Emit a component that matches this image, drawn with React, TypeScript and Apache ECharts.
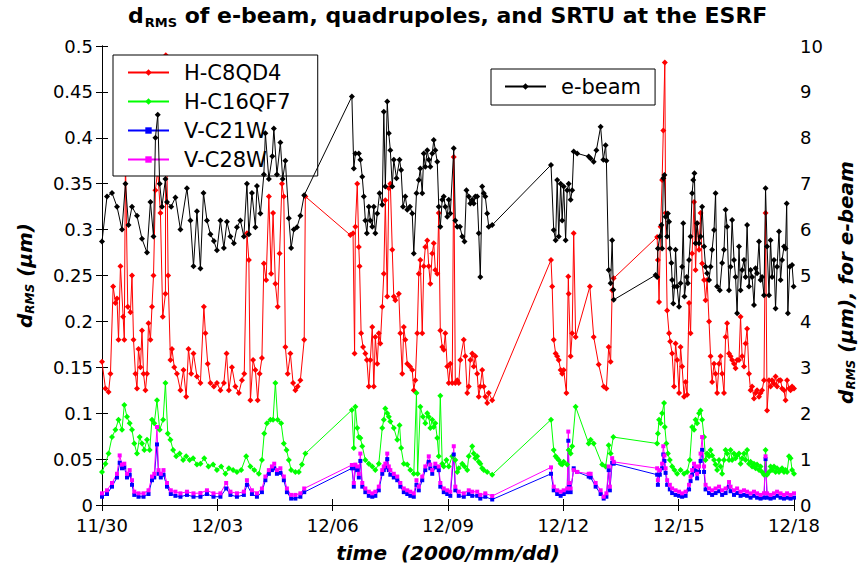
import React, { useEffect, useRef } from "react";
import * as echarts from "echarts";

const FONT = "DejaVu Sans";

const xTickLabels = ["11/30", "12/03", "12/06", "12/09", "12/12", "12/15", "12/18"];
const seriesNames = ["H-C8QD4", "H-C16QF7", "V-C21W", "V-C28W", "e-beam"];

// time in days after 11/30, value in micrometres
const ebeam: number[][] = [
  [0.00,5.74],[0.13,6.72],[0.26,6.8],[0.39,6.5],[0.52,6.0],[0.61,7.0],[0.69,6.1],[0.78,6.5],[0.91,6.3],[1.04,5.8],[1.17,5.5],[1.26,6.6],[1.34,5.85],[1.39,8.0],[1.45,8.5],[1.50,7.0],[1.56,6.5],[1.65,7.1],[1.69,6.6],[1.80,6.5],[1.91,6.7],[2.04,6.0],[2.21,6.9],[2.30,6.2],[2.38,5.2],[2.47,6.4],[2.56,5.15],[2.64,6.8],[2.73,6.2],[2.82,5.9],[2.91,5.75],[2.99,5.55],[3.08,6.2],[3.17,5.6],[3.25,6.17],[3.34,5.85],[3.43,5.7],[3.51,6.05],[3.60,6.2],[3.69,5.85],[3.77,7.0],[3.82,5.9],[3.90,6.8],[3.99,6.05],[4.03,6.95],[4.12,6.35],[4.21,7.2],[4.25,8.1],[4.34,7.1],[4.43,7.6],[4.47,8.2],[4.55,7.2],[4.64,7.9],[4.70,7.1],[4.77,7.5],[4.86,6.25],[4.92,5.6],[4.99,6.0],[5.07,6.05],[5.16,6.3],[5.26,6.75],
  [6.50,8.9],[6.55,7.33],[6.59,7.66],[6.68,7.66],[6.72,7.52],[6.77,7.15],[6.81,6.72],[6.85,6.2],[6.89,5.92],[6.94,6.5],[6.98,6.2],[7.03,6.06],[7.07,6.5],[7.11,5.92],[7.16,6.35],[7.22,6.79],[7.29,6.54],[7.33,8.57],[7.37,6.94],[7.42,8.79],[7.46,8.1],[7.50,7.73],[7.55,6.94],[7.59,7.52],[7.66,7.12],[7.74,7.52],[7.78,7.3],[7.83,6.5],[7.89,6.72],[7.94,6.43],[8.01,6.5],[8.07,6.35],[8.11,5.48],[8.18,6.79],[8.24,7.08],[8.28,7.33],[8.33,6.79],[8.37,7.66],[8.41,7.37],[8.46,7.73],[8.50,7.52],[8.54,7.37],[8.59,7.66],[8.63,7.95],[8.67,7.73],[8.72,7.48],[8.76,6.5],[8.80,6.06],[8.85,6.65],[8.89,6.72],[8.93,6.5],[8.98,6.28],[9.02,6.65],[9.06,6.35],[9.15,7.77],[9.19,6.2],[9.24,6.06],[9.31,6.06],[9.37,5.85],[9.43,5.74],[9.48,6.86],[9.54,6.72],[9.58,6.57],[9.63,6.65],[9.67,6.57],[9.71,6.72],[9.76,6.72],[9.80,5.92],[9.84,4.97],[9.89,6.94],[9.93,6.79],[9.97,6.72],[10.02,6.35],[10.06,6.06],[10.15,6.1],
  [11.68,7.41],[11.75,5.99],[11.80,5.77],[11.84,7.08],[11.88,5.85],[11.93,7.0],[11.97,6.2],[12.01,6.94],[12.06,5.77],[12.10,6.86],[12.14,7.0],[12.19,6.65],[12.23,6.86],[12.27,7.7],[12.36,7.66],[12.66,7.59],[12.71,7.55],[12.79,7.48],[12.86,7.73],[12.97,8.24],[13.04,7.52],[13.10,7.84],[13.12,7.5],[13.18,5.12],[13.23,4.83],[13.27,5.77],[13.30,4.69],[13.31,4.47],
  [14.40,5.01],[14.44,4.97],[14.46,5.59],[14.51,5.85],[14.55,6.1],[14.57,5.59],[14.60,7.12],[14.63,7.19],[14.66,6.28],[14.70,5.85],[14.72,6.35],[14.75,6.17],[14.77,5.59],[14.81,5.27],[14.83,4.9],[14.86,4.39],[14.89,4.76],[14.92,5.56],[14.96,4.76],[15.01,4.32],[15.05,4.83],[15.09,5.19],[15.12,6.14],[15.15,4.54],[15.21,4.97],[15.24,4.83],[15.27,5.34],[15.31,5.85],[15.35,6.79],[15.38,7.08],[15.41,7.23],[15.44,5.7],[15.48,6.14],[15.53,5.7],[15.57,5.85],[15.61,6.5],[15.66,5.63],[15.70,5.19],[15.74,5.05],[15.79,4.9],[15.83,5.19],[15.87,5.56],[15.92,5.99],[15.96,6.79],[16.00,4.76],[16.07,4.68],[16.13,5.27],[16.18,5.56],[16.22,6.43],[16.26,6.06],[16.31,4.68],[16.35,5.19],[16.39,6.21],[16.44,5.34],[16.48,4.97],[16.52,4.18],[16.57,5.63],[16.61,4.68],[16.65,5.12],[16.70,5.34],[16.74,4.97],[16.78,6.1],[16.83,4.76],[16.87,5.12],[16.91,4.97],[16.96,4.36],[17.00,5.16],[17.04,5.05],[17.09,5.74],[17.13,4.9],[17.17,4.97],[17.22,4.57],[17.26,6.9],[17.30,5.63],[17.35,4.57],[17.39,5.77],[17.43,4.97],[17.48,5.34],[17.52,4.28],[17.56,5.19],[17.61,5.96],[17.65,4.9],[17.69,5.34],[17.74,5.63],[17.78,5.59],[17.81,6.57],[17.84,4.18],[17.89,5.19],[17.95,5.23],[17.99,4.76]
];

const hC8QD4: number[][] = [
  [0.00,0.156],[0.09,0.127],[0.17,0.123],[0.22,0.143],[0.29,0.238],[0.35,0.22],[0.39,0.225],[0.43,0.18],[0.48,0.26],[0.55,0.205],[0.58,0.18],[0.61,0.38],[0.67,0.216],[0.74,0.21],[0.78,0.25],[0.82,0.18],[0.87,0.143],[0.91,0.127],[0.95,0.17],[1.00,0.15],[1.04,0.19],[1.08,0.143],[1.13,0.125],[1.17,0.143],[1.21,0.198],[1.26,0.18],[1.30,0.216],[1.34,0.25],[1.39,0.343],[1.45,0.365],[1.52,0.318],[1.58,0.205],[1.65,0.23],[1.66,0.49],[1.72,0.25],[1.78,0.158],[1.82,0.17],[1.88,0.15],[1.95,0.143],[2.04,0.125],[2.12,0.147],[2.19,0.118],[2.25,0.17],[2.32,0.143],[2.38,0.165],[2.47,0.14],[2.56,0.133],[2.65,0.216],[2.69,0.187],[2.75,0.154],[2.82,0.133],[2.91,0.129],[2.99,0.133],[3.08,0.125],[3.17,0.133],[3.24,0.165],[3.30,0.125],[3.38,0.15],[3.47,0.129],[3.56,0.122],[3.64,0.136],[3.70,0.143],[3.77,0.296],[3.82,0.267],[3.86,0.114],[3.93,0.158],[3.99,0.147],[4.05,0.114],[4.10,0.143],[4.16,0.16],[4.21,0.263],[4.27,0.245],[4.34,0.336],[4.40,0.252],[4.45,0.318],[4.51,0.241],[4.57,0.216],[4.62,0.274],[4.68,0.35],[4.73,0.336],[4.77,0.172],[4.83,0.143],[4.90,0.165],[4.97,0.133],[5.03,0.125],[5.09,0.129],[5.16,0.136],[5.26,0.18],[5.29,0.336],
  [6.46,0.294],[6.53,0.296],[6.57,0.165],[6.59,0.303],[6.64,0.35],[6.68,0.281],[6.70,0.26],[6.74,0.187],[6.79,0.172],[6.85,0.165],[6.89,0.158],[6.94,0.129],[6.98,0.158],[7.03,0.194],[7.07,0.129],[7.11,0.183],[7.16,0.154],[7.20,0.187],[7.24,0.176],[7.29,0.216],[7.33,0.252],[7.37,0.332],[7.42,0.227],[7.46,0.345],[7.50,0.35],[7.55,0.278],[7.59,0.227],[7.63,0.223],[7.72,0.23],[7.76,0.187],[7.81,0.143],[7.85,0.194],[7.89,0.18],[7.94,0.154],[8.01,0.151],[8.07,0.147],[8.11,0.125],[8.15,0.136],[8.20,0.187],[8.24,0.252],[8.28,0.267],[8.33,0.187],[8.37,0.26],[8.41,0.281],[8.46,0.288],[8.50,0.26],[8.54,0.241],[8.59,0.274],[8.63,0.285],[8.67,0.256],[8.72,0.252],[8.76,0.318],[8.80,0.19],[8.85,0.172],[8.89,0.169],[8.93,0.187],[8.98,0.151],[9.02,0.133],[9.06,0.154],[9.11,0.133],[9.15,0.379],[9.19,0.133],[9.24,0.136],[9.28,0.133],[9.32,0.158],[9.41,0.18],[9.45,0.162],[9.50,0.122],[9.54,0.129],[9.58,0.158],[9.63,0.165],[9.67,0.151],[9.71,0.162],[9.76,0.143],[9.80,0.118],[9.84,0.129],[9.89,0.147],[9.93,0.129],[9.97,0.118],[10.02,0.111],[10.06,0.122],[10.15,0.114],
  [11.68,0.267],[11.71,0.238],[11.75,0.18],[11.80,0.165],[11.84,0.162],[11.88,0.158],[11.93,0.147],[11.97,0.143],[12.01,0.147],[12.08,0.122],[12.13,0.249],[12.14,0.23],[12.19,0.162],[12.23,0.187],[12.27,0.296],[12.32,0.183],[12.69,0.238],[12.79,0.183],[12.92,0.153],[13.05,0.129],[13.12,0.127],[13.18,0.172],[13.23,0.156],[13.27,0.234],[13.31,0.247],
  [14.44,0.292],[14.46,0.267],[14.49,0.221],[14.53,0.303],[14.57,0.354],[14.60,0.408],[14.64,0.482],[14.66,0.318],[14.70,0.212],[14.75,0.187],[14.78,0.178],[14.83,0.165],[14.88,0.129],[14.92,0.176],[14.96,0.158],[15.01,0.122],[15.05,0.172],[15.09,0.151],[15.14,0.118],[15.18,0.134],[15.22,0.12],[15.27,0.22],[15.31,0.187],[15.35,0.274],[15.40,0.33],[15.44,0.256],[15.48,0.307],[15.53,0.278],[15.57,0.318],[15.61,0.263],[15.66,0.245],[15.70,0.223],[15.74,0.245],[15.79,0.2],[15.83,0.162],[15.87,0.134],[15.92,0.154],[15.96,0.143],[16.00,0.122],[16.05,0.154],[16.09,0.162],[16.13,0.143],[16.18,0.122],[16.22,0.183],[16.26,0.198],[16.31,0.165],[16.35,0.162],[16.39,0.158],[16.44,0.154],[16.48,0.149],[16.52,0.158],[16.57,0.158],[16.61,0.205],[16.65,0.162],[16.70,0.151],[16.74,0.176],[16.78,0.192],[16.83,0.143],[16.87,0.125],[16.91,0.129],[16.96,0.116],[17.00,0.122],[17.04,0.125],[17.09,0.118],[17.13,0.122],[17.17,0.125],[17.22,0.136],[17.26,0.318],[17.30,0.103],[17.35,0.136],[17.39,0.129],[17.43,0.136],[17.48,0.132],[17.52,0.14],[17.56,0.129],[17.61,0.136],[17.65,0.136],[17.69,0.127],[17.74,0.125],[17.78,0.114],[17.82,0.136],[17.87,0.127],[17.91,0.125],[17.95,0.129],[18.0,0.127]
];

const hC16QF7: number[][] = [
  [0.00,0.036],[0.09,0.045],[0.17,0.056],[0.26,0.074],[0.35,0.082],[0.43,0.093],[0.52,0.082],[0.58,0.109],[0.65,0.096],[0.72,0.089],[0.78,0.082],[0.84,0.067],[0.91,0.056],[0.98,0.074],[1.04,0.067],[1.10,0.06],[1.17,0.071],[1.24,0.06],[1.30,0.093],[1.36,0.089],[1.43,0.114],[1.50,0.082],[1.59,0.093],[1.65,0.133],[1.71,0.078],[1.78,0.071],[1.85,0.06],[1.93,0.053],[2.02,0.056],[2.11,0.049],[2.19,0.053],[2.28,0.049],[2.37,0.051],[2.47,0.044],[2.56,0.045],[2.66,0.051],[2.77,0.042],[2.89,0.044],[2.99,0.038],[3.10,0.042],[3.21,0.034],[3.30,0.04],[3.41,0.038],[3.51,0.036],[3.62,0.038],[3.75,0.053],[3.86,0.042],[3.96,0.038],[4.08,0.034],[4.16,0.049],[4.22,0.078],[4.29,0.089],[4.38,0.093],[4.45,0.093],[4.51,0.133],[4.57,0.093],[4.66,0.089],[4.73,0.067],[4.80,0.06],[4.86,0.049],[4.92,0.038],[5.03,0.036],[5.12,0.036],[5.20,0.044],[5.29,0.056],
  [6.50,0.1035],[6.55,0.062],[6.59,0.107],[6.64,0.084],[6.68,0.074],[6.72,0.073],[6.77,0.064],[6.85,0.049],[6.94,0.045],[7.03,0.042],[7.11,0.038],[7.20,0.045],[7.29,0.084],[7.33,0.093],[7.37,0.105],[7.42,0.1],[7.46,0.096],[7.50,0.091],[7.59,0.084],[7.68,0.071],[7.74,0.087],[7.78,0.062],[7.85,0.045],[7.94,0.044],[8.02,0.038],[8.11,0.034],[8.18,0.122],[8.21,0.034],[8.28,0.107],[8.35,0.096],[8.41,0.089],[8.46,0.1],[8.50,0.096],[8.54,0.084],[8.59,0.093],[8.63,0.085],[8.67,0.089],[8.72,0.073],[8.76,0.053],[8.80,0.119],[8.85,0.045],[8.89,0.042],[8.96,0.049],[9.02,0.042],[9.11,0.053],[9.19,0.049],[9.24,0.036],[9.28,0.04],[9.37,0.045],[9.43,0.042],[9.50,0.038],[9.54,0.053],[9.63,0.064],[9.67,0.056],[9.71,0.051],[9.76,0.053],[9.80,0.047],[9.84,0.045],[9.89,0.04],[9.93,0.038],[10.02,0.036],[10.15,0.033],
  [11.68,0.093],[11.75,0.06],[11.80,0.053],[11.84,0.051],[11.88,0.049],[11.93,0.045],[11.97,0.044],[12.01,0.047],[12.10,0.044],[12.14,0.06],[12.19,0.056],[12.23,0.064],[12.32,0.107],[12.66,0.067],[12.71,0.071],[12.79,0.067],[13.01,0.044],[13.10,0.042],[13.18,0.065],[13.23,0.056],[13.30,0.074],
  [14.44,0.067],[14.46,0.078],[14.49,0.093],[14.53,0.089],[14.57,0.1],[14.62,0.111],[14.64,0.085],[14.68,0.067],[14.72,0.056],[14.77,0.049],[14.83,0.042],[14.89,0.038],[14.96,0.034],[15.05,0.038],[15.14,0.034],[15.22,0.036],[15.29,0.049],[15.35,0.085],[15.40,0.082],[15.44,0.093],[15.48,0.089],[15.53,0.1],[15.57,0.103],[15.61,0.093],[15.66,0.074],[15.70,0.049],[15.74,0.056],[15.79,0.053],[15.83,0.06],[15.87,0.054],[15.92,0.049],[15.96,0.044],[16.00,0.038],[16.05,0.049],[16.09,0.042],[16.13,0.034],[16.18,0.049],[16.22,0.06],[16.26,0.056],[16.31,0.049],[16.35,0.06],[16.39,0.049],[16.44,0.056],[16.48,0.051],[16.52,0.054],[16.57,0.056],[16.61,0.045],[16.65,0.051],[16.70,0.056],[16.74,0.049],[16.78,0.06],[16.83,0.045],[16.87,0.047],[16.91,0.042],[16.96,0.045],[17.00,0.04],[17.04,0.044],[17.09,0.038],[17.13,0.042],[17.17,0.036],[17.22,0.033],[17.26,0.06],[17.30,0.033],[17.35,0.036],[17.39,0.042],[17.43,0.038],[17.48,0.042],[17.52,0.036],[17.56,0.04],[17.61,0.036],[17.65,0.038],[17.69,0.04],[17.74,0.036],[17.78,0.038],[17.82,0.036],[17.87,0.053],[17.91,0.051],[17.95,0.038],[18.0,0.034]
];

const vC21W: number[][] = [
  [0.00,0.009],[0.13,0.012],[0.26,0.02],[0.39,0.03],[0.46,0.046],[0.52,0.04],[0.58,0.041],[0.65,0.03],[0.72,0.033],[0.78,0.022],[0.84,0.011],[0.95,0.009],[1.08,0.009],[1.21,0.012],[1.30,0.027],[1.36,0.03],[1.43,0.066],[1.47,0.034],[1.53,0.03],[1.60,0.033],[1.69,0.02],[1.79,0.012],[1.91,0.01],[2.04,0.009],[2.21,0.011],[2.38,0.009],[2.56,0.009],[2.73,0.012],[2.90,0.009],[3.08,0.009],[3.23,0.018],[3.34,0.011],[3.51,0.009],[3.69,0.011],[3.77,0.022],[3.90,0.012],[4.03,0.009],[4.16,0.014],[4.25,0.027],[4.34,0.034],[4.42,0.038],[4.48,0.04],[4.55,0.034],[4.64,0.035],[4.73,0.027],[4.81,0.014],[4.92,0.007],[5.03,0.007],[5.16,0.009],[5.26,0.014],
  [6.50,0.04],[6.55,0.02],[6.59,0.04],[6.64,0.038],[6.68,0.03],[6.72,0.048],[6.77,0.02],[6.85,0.014],[6.94,0.01],[7.03,0.009],[7.11,0.01],[7.20,0.016],[7.29,0.034],[7.33,0.038],[7.37,0.041],[7.42,0.05],[7.46,0.038],[7.50,0.033],[7.59,0.03],[7.68,0.027],[7.76,0.02],[7.85,0.014],[7.94,0.012],[8.02,0.01],[8.11,0.009],[8.18,0.022],[8.24,0.016],[8.33,0.027],[8.41,0.038],[8.50,0.047],[8.54,0.04],[8.59,0.034],[8.67,0.041],[8.76,0.038],[8.80,0.02],[8.89,0.014],[8.98,0.012],[9.06,0.01],[9.15,0.055],[9.19,0.016],[9.28,0.01],[9.41,0.009],[9.54,0.012],[9.63,0.01],[9.76,0.01],[9.84,0.007],[9.97,0.009],[10.15,0.006],
  [11.68,0.034],[11.75,0.016],[11.84,0.012],[11.93,0.01],[12.01,0.012],[12.10,0.014],[12.13,0.07],[12.15,0.02],[12.19,0.014],[12.27,0.04],[12.36,0.036],[12.66,0.031],[12.71,0.03],[12.84,0.02],[12.97,0.012],[13.05,0.007],[13.12,0.009],[13.18,0.038],[13.21,0.016],[13.27,0.046],[13.31,0.045],
  [14.44,0.033],[14.46,0.022],[14.51,0.033],[14.57,0.04],[14.60,0.055],[14.63,0.048],[14.66,0.035],[14.70,0.022],[14.77,0.017],[14.83,0.013],[14.92,0.011],[15.01,0.01],[15.09,0.009],[15.18,0.01],[15.27,0.017],[15.31,0.026],[15.35,0.033],[15.40,0.04],[15.44,0.037],[15.48,0.029],[15.53,0.036],[15.57,0.048],[15.61,0.06],[15.66,0.036],[15.70,0.017],[15.79,0.013],[15.87,0.011],[15.96,0.013],[16.05,0.015],[16.13,0.011],[16.22,0.013],[16.31,0.02],[16.35,0.015],[16.44,0.011],[16.52,0.013],[16.61,0.01],[16.70,0.011],[16.78,0.01],[16.87,0.008],[16.96,0.01],[17.04,0.008],[17.13,0.007],[17.22,0.008],[17.26,0.05],[17.30,0.008],[17.39,0.007],[17.48,0.008],[17.56,0.01],[17.65,0.008],[17.74,0.007],[17.82,0.008],[17.91,0.007],[18.0,0.008]
];

const vC28W: number[][] = [
  [0.00,0.0127],[0.13,0.016],[0.26,0.024],[0.39,0.034],[0.46,0.054],[0.52,0.044],[0.58,0.045],[0.65,0.034],[0.72,0.038],[0.78,0.027],[0.84,0.0145],[0.95,0.0127],[1.08,0.0127],[1.21,0.016],[1.30,0.031],[1.36,0.034],[1.43,0.085],[1.47,0.038],[1.53,0.034],[1.60,0.038],[1.69,0.024],[1.79,0.016],[1.91,0.0145],[2.04,0.0127],[2.21,0.0145],[2.38,0.0127],[2.56,0.013],[2.73,0.016],[2.90,0.0127],[3.08,0.0127],[3.23,0.024],[3.34,0.0145],[3.51,0.0127],[3.69,0.0145],[3.77,0.027],[3.90,0.016],[4.03,0.0127],[4.16,0.018],[4.25,0.031],[4.34,0.038],[4.42,0.042],[4.48,0.045],[4.55,0.038],[4.64,0.04],[4.73,0.031],[4.81,0.018],[4.92,0.011],[5.03,0.011],[5.16,0.0127],[5.26,0.018],
  [6.50,0.0436],[6.55,0.024],[6.59,0.044],[6.64,0.042],[6.68,0.034],[6.72,0.056],[6.77,0.024],[6.85,0.018],[6.94,0.0145],[7.03,0.0127],[7.11,0.0145],[7.20,0.02],[7.29,0.038],[7.33,0.042],[7.37,0.045],[7.42,0.056],[7.46,0.042],[7.50,0.038],[7.59,0.034],[7.68,0.031],[7.76,0.024],[7.85,0.018],[7.94,0.016],[8.02,0.0145],[8.11,0.0127],[8.18,0.027],[8.24,0.02],[8.33,0.031],[8.41,0.042],[8.50,0.053],[8.54,0.044],[8.59,0.038],[8.67,0.045],[8.76,0.042],[8.80,0.024],[8.89,0.018],[8.98,0.016],[9.06,0.0145],[9.15,0.064],[9.19,0.02],[9.28,0.0145],[9.41,0.0127],[9.54,0.016],[9.63,0.0145],[9.76,0.0145],[9.84,0.011],[9.97,0.0127],[10.15,0.0098],
  [11.68,0.041],[11.75,0.02],[11.84,0.016],[11.93,0.0145],[12.01,0.016],[12.10,0.018],[12.13,0.08],[12.15,0.024],[12.19,0.018],[12.27,0.038],[12.36,0.036],[12.66,0.034],[12.71,0.034],[12.84,0.024],[12.97,0.016],[13.05,0.009],[13.12,0.0127],[13.18,0.042],[13.21,0.02],[13.27,0.051],[13.31,0.047],
  [14.44,0.04],[14.46,0.027],[14.51,0.038],[14.57,0.045],[14.60,0.064],[14.63,0.054],[14.66,0.04],[14.70,0.027],[14.77,0.022],[14.83,0.018],[14.92,0.016],[15.01,0.0145],[15.09,0.0127],[15.18,0.0145],[15.27,0.022],[15.31,0.031],[15.35,0.038],[15.40,0.045],[15.44,0.042],[15.48,0.034],[15.53,0.042],[15.57,0.056],[15.61,0.074],[15.66,0.042],[15.70,0.022],[15.79,0.018],[15.87,0.016],[15.96,0.018],[16.05,0.02],[16.13,0.016],[16.22,0.018],[16.31,0.025],[16.35,0.02],[16.44,0.016],[16.52,0.018],[16.61,0.0145],[16.70,0.016],[16.78,0.0145],[16.87,0.0127],[16.96,0.0145],[17.04,0.0127],[17.13,0.011],[17.22,0.0127],[17.26,0.053],[17.30,0.0127],[17.39,0.011],[17.48,0.0127],[17.56,0.0145],[17.65,0.0127],[17.74,0.011],[17.82,0.0127],[17.91,0.011],[18.0,0.0127]
];

const seriesColors = ["#ff0000", "#00ff00", "#0000ff", "#ff00ff", "#000000"];

export default function App() {
  const ref = useRef<HTMLDivElement>(null);
  useEffect(() => {
    if (!ref.current) return;
    const chart = echarts.init(ref.current, null, { renderer: "svg" });
    const axisLine = { show: true, lineStyle: { color: "#000", width: 1 } };
    const tick = { show: true, inside: true, length: 6, lineStyle: { color: "#000", width: 1 } };
    const labelStyle = { color: "#000", fontSize: 18, fontFamily: FONT };
    const nameRich = {
      d: { fontSize: 20, fontWeight: "bold", fontStyle: "italic", fontFamily: FONT, color: "#000" },
      s: { fontSize: 12, fontWeight: "bold", fontStyle: "italic", fontFamily: FONT, color: "#000", padding: [11, 0, 0, 0] },
      t: { fontSize: 20, fontWeight: "bold", fontStyle: "italic", fontFamily: FONT, color: "#000" },
    };
    const mk = (i: number, data: number[][], symbol: string, size: number, yIdx: number, z: number) => ({
      name: seriesNames[i],
      type: "line",
      data,
      xAxisIndex: 0,
      yAxisIndex: yIdx,
      symbol,
      symbolSize: size,
      showSymbol: true,
      showAllSymbol: true,
      z,
      silent: true,
      color: seriesColors[i],
      itemStyle: { color: seriesColors[i] },
      lineStyle: { color: seriesColors[i], width: 1 },
      emphasis: { disabled: true },
    });
    const legendBase = {
      orient: "vertical",
      selectedMode: false,
      itemWidth: 41,
      itemHeight: 8,
      itemGap: 8,
      borderColor: "#000",
      borderWidth: 1,
      backgroundColor: "#fff",
      textStyle: { fontFamily: FONT, fontSize: 21, color: "#000", padding: [0, 0, 0, 10] },
    };
    chart.setOption({
      animation: false,
      backgroundColor: "#fff",
      title: {
        text: "{d|d}{s|RMS}{t| of e-beam, quadrupoles, and SRTU at the ESRF}",
        left: 128,
        top: 2,
        padding: 0,
        textStyle: {
          rich: {
            d: { fontSize: 22, fontWeight: "bold", fontFamily: FONT, color: "#000" },
            s: { fontSize: 13, fontWeight: "bold", fontFamily: FONT, color: "#000", padding: [14, 0, 0, 1] },
            t: { fontSize: 22, fontWeight: "bold", fontFamily: FONT, color: "#000" },
          },
        },
      },
      grid: { left: 102, right: 71, top: 46, bottom: 67 },
      legend: [
        { ...legendBase, data: seriesNames.slice(0, 4), left: 113, top: 55, padding: [7, 27, 6, 14], z: 2 },
        { ...legendBase, data: ["e-beam"], left: 491, top: 69, padding: [7, 14, 8, 13], z: 4 },
      ],
      xAxis: [
        {
          type: "value", min: 0, max: 18, interval: 3, position: "bottom",
          axisLine, axisTick: tick, splitLine: { show: false },
          axisLabel: { ...labelStyle, margin: 11, formatter: (v: number) => xTickLabels[Math.round(v / 3)] ?? "" },
          name: "time  (2000/mm/dd)", nameLocation: "middle", nameGap: 38,
          nameTextStyle: { fontSize: 20, fontWeight: "bold", fontStyle: "italic", fontFamily: FONT, color: "#000" },
        },
        {
          type: "value", min: 0, max: 18, interval: 3, position: "top",
          axisLine, axisTick: tick, splitLine: { show: false }, axisLabel: { show: false },
        },
      ],
      yAxis: [
        {
          type: "value", min: 0, max: 0.5, interval: 0.05, position: "left",
          axisLine, axisTick: tick, splitLine: { show: false },
          axisLabel: { ...labelStyle, margin: 9 },
          name: "{d|d}{s|RMS}{t| (μm)}", nameLocation: "middle", nameRotate: 90, nameGap: 66,
          nameTextStyle: { rich: nameRich },
        },
        {
          type: "value", min: 0, max: 10, interval: 1, position: "right",
          axisLine, axisTick: tick, splitLine: { show: false },
          axisLabel: { ...labelStyle, margin: 6 },
          name: "{d|d}{s|RMS}{t| (μm), for e-beam}", nameLocation: "middle", nameRotate: 90, nameGap: 40,
          nameTextStyle: { rich: nameRich, padding: [0, 14, 0, 0] },
        },
      ],
      series: [
        mk(0, hC8QD4, "diamond", 6, 0, 1),
        mk(1, hC16QF7, "diamond", 6, 0, 1),
        mk(2, vC21W, "rect", 4, 0, 1),
        mk(3, vC28W, "rect", 4, 0, 1),
        mk(4, ebeam, "diamond", 6, 1, 3),
      ],
    });
    return () => chart.dispose();
  }, []);
  return <div ref={ref} style={{ position: "fixed", left: 0, top: 0, width: 865, height: 572 }} />;
}
